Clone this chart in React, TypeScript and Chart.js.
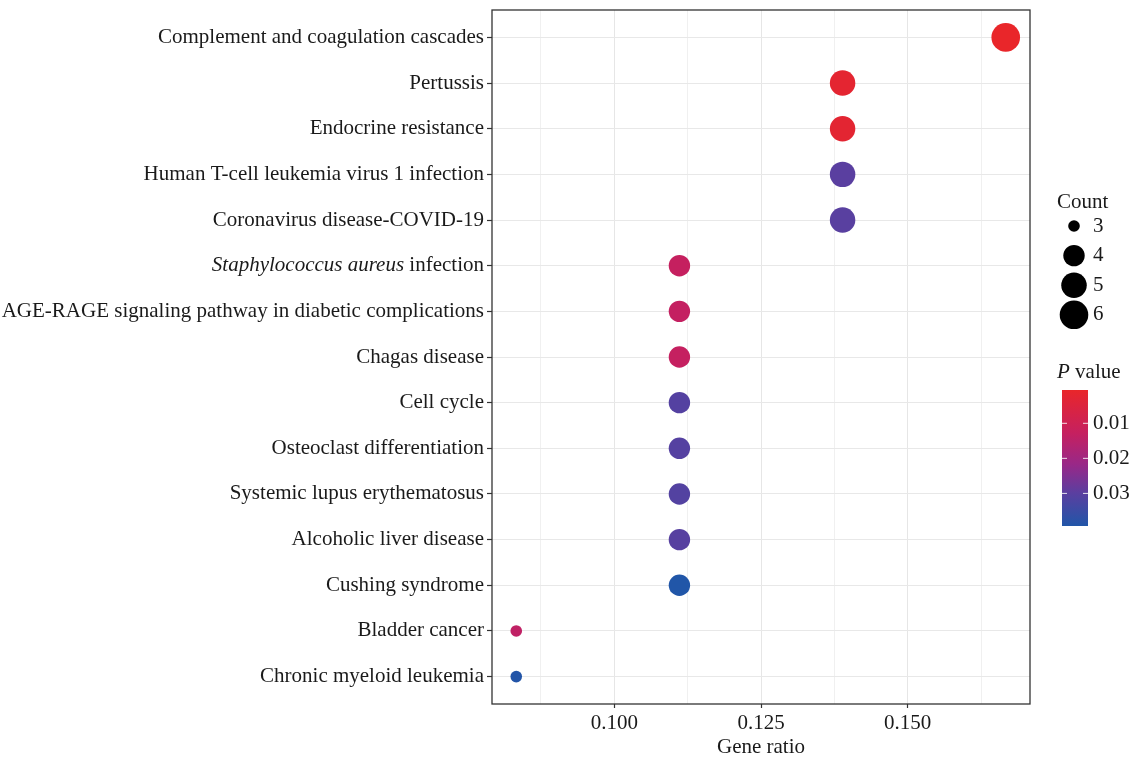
import { useEffect, useRef } from 'react';
import { Chart, registerables } from 'chart.js';

Chart.register(...registerables);

// KEGG enrichment results, top to bottom
const pathways = [
  'Complement and coagulation cascades',
  'Pertussis',
  'Endocrine resistance',
  'Human T-cell leukemia virus 1 infection',
  'Coronavirus disease-COVID-19',
  'Staphylococcus aureus infection',
  'AGE-RAGE signaling pathway in diabetic complications',
  'Chagas disease',
  'Cell cycle',
  'Osteoclast differentiation',
  'Systemic lupus erythematosus',
  'Alcoholic liver disease',
  'Cushing syndrome',
  'Bladder cancer',
  'Chronic myeloid leukemia',
];
const geneRatio = [0.1667, 0.1389, 0.1389, 0.1389, 0.1389, 0.1111, 0.1111, 0.1111, 0.1111, 0.1111, 0.1111, 0.1111, 0.1111, 0.0833, 0.0833];
const geneCount = [6, 5, 5, 5, 5, 4, 4, 4, 4, 4, 4, 4, 4, 3, 3];
const pValue = [0.0005, 0.0022, 0.0024, 0.0300, 0.0302, 0.0128, 0.0132, 0.0130, 0.0310, 0.0308, 0.0312, 0.0305, 0.0393, 0.0140, 0.0390];

const countBreaks = [3, 4, 5, 6];
const pBreaks = [0.01, 0.02, 0.03];
const xMajor = [0.1, 0.125, 0.15];
const xMinor = [0.0875, 0.1125, 0.1375, 0.1625];

const FONT = '"Liberation Serif", "Times New Roman", serif';
const TEXT = '#1a1a1a';

const pMin = Math.min(...pValue);
const pMax = Math.max(...pValue);
const cMin = Math.min(...countBreaks);
const cMax = Math.max(...countBreaks);

// red (small P) -> blue (large P)
const gradStops: [number, number[]][] = [
  [0, [233, 38, 42]],
  [0.32, [197, 32, 96]],
  [0.55, [152, 40, 136]],
  [0.76, [90, 63, 160]],
  [1, [33, 86, 168]],
];

function colourAt(t: number) {
  t = Math.max(0, Math.min(1, t));
  for (let i = 1; i < gradStops.length; i++) {
    const [t1, c1] = gradStops[i];
    const [t0, c0] = gradStops[i - 1];
    if (t <= t1) {
      const f = (t - t0) / (t1 - t0);
      const c = c0.map((v, k) => Math.round(v + (c1[k] - v) * f));
      return `rgb(${c[0]},${c[1]},${c[2]})`;
    }
  }
  const c = gradStops[gradStops.length - 1][1];
  return `rgb(${c[0]},${c[1]},${c[2]})`;
}
const colourFor = (p: number) => colourAt((p - pMin) / (pMax - pMin));

// area-style size scale
function radiusFor(count: number) {
  const size = 1 + 5 * Math.sqrt((count - cMin) / (cMax - cMin));
  return 1.7 * size + 4.1;
}

const near = (a: number, b: number) => Math.abs(a - b) < 1e-9;
const isMajor = (v: number) => xMajor.some((m) => near(m, v));

const decorPlugin = {
  id: 'dotplotDecor',
  afterDraw(chart: any) {
    const { ctx, chartArea: a, scales } = chart;
    ctx.save();

    // panel border
    ctx.strokeStyle = '#333333';
    ctx.lineWidth = 1.3;
    ctx.strokeRect(a.left, a.top, a.right - a.left, a.bottom - a.top);

    // category labels (italic genus/species where needed)
    ctx.fillStyle = TEXT;
    ctx.textBaseline = 'middle';
    const xr = a.left - 8;
    pathways.forEach((name, i) => {
      const y = scales.y.getPixelForValue(i + 1);
      const sp = 'Staphylococcus aureus';
      if (name.startsWith(sp)) {
        const rest = name.slice(sp.length);
        ctx.font = `21px ${FONT}`;
        const wRest = ctx.measureText(rest).width;
        ctx.font = `italic 21px ${FONT}`;
        const wIt = ctx.measureText(sp).width;
        ctx.textAlign = 'left';
        ctx.fillText(sp, xr - wRest - wIt, y);
        ctx.font = `21px ${FONT}`;
        ctx.fillText(rest, xr - wRest, y);
      } else {
        ctx.font = `21px ${FONT}`;
        ctx.textAlign = 'right';
        ctx.fillText(name, xr, y);
      }
    });

    // x title
    ctx.font = `21px ${FONT}`;
    ctx.textAlign = 'center';
    ctx.fillText('Gene ratio', (a.left + a.right) / 2, 747);

    // size legend
    const lx = a.right + 27;
    ctx.textAlign = 'left';
    ctx.fillText('Count', lx, 202);
    countBreaks.forEach((c, i) => {
      const y = 226 + i * 29.6;
      ctx.fillStyle = '#000000';
      ctx.beginPath();
      ctx.arc(lx + 17, y, radiusFor(c), 0, Math.PI * 2);
      ctx.fill();
      ctx.fillStyle = TEXT;
      ctx.fillText(String(c), lx + 36, y);
    });

    // colour legend
    ctx.font = `italic 21px ${FONT}`;
    ctx.fillText('P', lx, 372);
    const wP = ctx.measureText('P').width;
    ctx.font = `21px ${FONT}`;
    ctx.fillText(' value', lx + wP, 372);

    const bx = lx + 5, bw = 26, bt = 390, bh = 136;
    const g = ctx.createLinearGradient(0, bt, 0, bt + bh);
    gradStops.forEach(([t]) => g.addColorStop(t, colourAt(t)));
    ctx.fillStyle = g;
    ctx.fillRect(bx, bt, bw, bh);
    pBreaks.forEach((b) => {
      const y = bt + ((b - pMin) / (pMax - pMin)) * bh;
      ctx.strokeStyle = 'rgba(255,255,255,0.85)';
      ctx.lineWidth = 1;
      ctx.beginPath();
      ctx.moveTo(bx, y);
      ctx.lineTo(bx + 5, y);
      ctx.moveTo(bx + bw - 5, y);
      ctx.lineTo(bx + bw, y);
      ctx.stroke();
      ctx.fillStyle = TEXT;
      ctx.fillText(b.toFixed(2), bx + bw + 5, y);
    });

    ctx.restore();
  },
};

export default function App() {
  const ref = useRef<HTMLCanvasElement>(null);

  useEffect(() => {
    if (!ref.current) return;
    const chart = new Chart(ref.current, {
      type: 'scatter',
      data: {
        datasets: [
          {
            data: geneRatio.map((x, i) => ({ x, y: i + 1 })),
            pointRadius: (c: any) => radiusFor(geneCount[c.dataIndex]),
            pointHoverRadius: (c: any) => radiusFor(geneCount[c.dataIndex]),
            pointBackgroundColor: (c: any) => colourFor(pValue[c.dataIndex]),
            pointBorderWidth: 0,
            clip: false,
          } as any,
        ],
      },
      options: {
        responsive: false,
        animation: false,
        layout: { autoPadding: false, padding: { top: 10, right: 107, bottom: 0, left: 0 } },
        plugins: { legend: { display: false }, tooltip: { enabled: false } },
        scales: {
          x: {
            type: 'linear',
            min: 0.0791667,
            max: 0.1708333,
            afterBuildTicks: (s: any) => {
              s.ticks = [...xMinor, ...xMajor].sort((p, q) => p - q).map((v) => ({ value: v }));
            },
            afterFit: (s: any) => {
              s.height = 55;
            },
            ticks: {
              autoSkip: false,
              maxRotation: 0,
              padding: 3,
              color: TEXT,
              font: { family: FONT, size: 21 },
              callback: (v: any) => (isMajor(Number(v)) ? Number(v).toFixed(3) : ''),
            },
            grid: {
              color: (c: any) => (c.tick && isMajor(c.tick.value) ? '#e6e6e6' : '#f0f0f0'),
              lineWidth: 1,
              tickLength: 4,
              tickWidth: 1.2,
              tickColor: (c: any) => (c.tick && isMajor(c.tick.value) ? '#333333' : 'rgba(0,0,0,0)'),
            },
            border: { display: false },
          },
          y: {
            type: 'linear',
            reverse: true,
            min: 0.4,
            max: 15.6,
            afterBuildTicks: (s: any) => {
              s.ticks = pathways.map((_, i) => ({ value: i + 1 }));
            },
            afterFit: (s: any) => {
              s.width = 492;
            },
            ticks: { display: false },
            grid: {
              color: '#e8e8e8',
              lineWidth: 1,
              tickLength: 5,
              tickWidth: 1.2,
              tickColor: '#333333',
            },
            border: { display: false },
          },
        },
      } as any,
      plugins: [decorPlugin],
    });
    return () => chart.destroy();
  }, []);

  return (
    <div style={{ position: 'absolute', left: 0, top: 0, width: 1137, height: 759, background: '#ffffff' }}>
      <canvas ref={ref} width={1137} height={759} />
    </div>
  );
}
